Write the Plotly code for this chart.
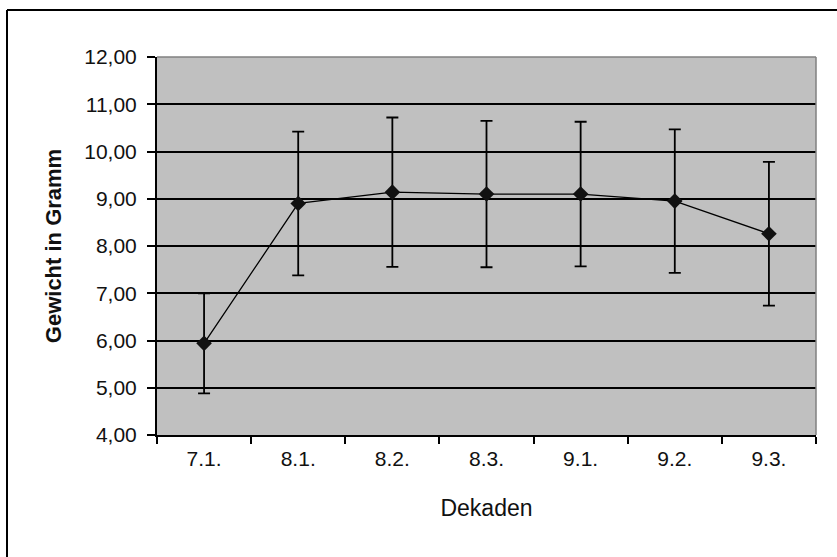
import plotly.graph_objects as go

categories = ["7.1.", "8.1.", "8.2.", "8.3.", "9.1.", "9.2.", "9.3."]
means = [5.94, 8.90, 9.14, 9.10, 9.10, 8.95, 8.26]
errors = [1.06, 1.52, 1.58, 1.55, 1.53, 1.52, 1.52]
y_ticks = [4, 5, 6, 7, 8, 9, 10, 11, 12]

fig = go.Figure()
fig.add_trace(go.Scatter(
    x=categories, y=means, mode="lines+markers",
    line=dict(color="black", width=1.3),
    marker=dict(symbol="diamond", size=12, color="#111111"),
    error_y=dict(type="data", array=errors, visible=True, color="black", thickness=1.8, width=6),
    showlegend=False,
))

L, R, T, B = 157, 21, 57, 122
W, H = 837, 557
pw, ph = W - L - R, H - T - B

def px_x(p):
    return (p - L) / pw

def px_y(p):
    return (H - B - p) / ph

fig.update_layout(
    width=W, height=H,
    margin=dict(l=L, r=R, t=T, b=B),
    paper_bgcolor="white",
    plot_bgcolor="#C0C0C0",
    font=dict(family="Liberation Sans, Arial, sans-serif", size=21, color="#111111"),
    separators=",.",
    xaxis=dict(
        type="category", range=[-0.5, 6.5], tickson="boundaries",
        ticks="outside", ticklen=7, tickwidth=1.8, tickcolor="black",
        showline=True, linecolor="black", linewidth=2,
        showgrid=False, tickfont=dict(size=21), ticklabelstandoff=4,
        title=dict(text="Dekaden", font=dict(size=23), standoff=31),
    ),
    yaxis=dict(
        range=[4, 12], tickvals=y_ticks, tickformat=".2f",
        ticks="outside", ticklen=8, tickwidth=1.8, tickcolor="black",
        showline=True, linecolor="black", linewidth=2,
        showgrid=True, gridcolor="black", gridwidth=1.8,
        zeroline=False, tickfont=dict(size=21), ticklabelstandoff=6,
        title=dict(text="<b>Gewicht in Gramm</b>", font=dict(size=22), standoff=17),
    ),
    shapes=[
        dict(type="line", xref="paper", yref="paper",
             x0=px_x(7), x1=px_x(845), y0=px_y(10), y1=px_y(10),
             line=dict(color="black", width=2)),
        dict(type="line", xref="paper", yref="paper",
             x0=px_x(7), x1=px_x(7), y0=px_y(10), y1=px_y(565),
             line=dict(color="black", width=2)),
        dict(type="line", xref="paper", yref="paper",
             x0=0, x1=1, y0=1, y1=1, line=dict(color="#808080", width=1.5)),
        dict(type="line", xref="paper", yref="paper",
             x0=1, x1=1, y0=0, y1=1, line=dict(color="#808080", width=1.5)),
    ],
)

fig.write_html("out.html", config={"displayModeBar": False},
               post_script="document.body.style.margin='0px';")
